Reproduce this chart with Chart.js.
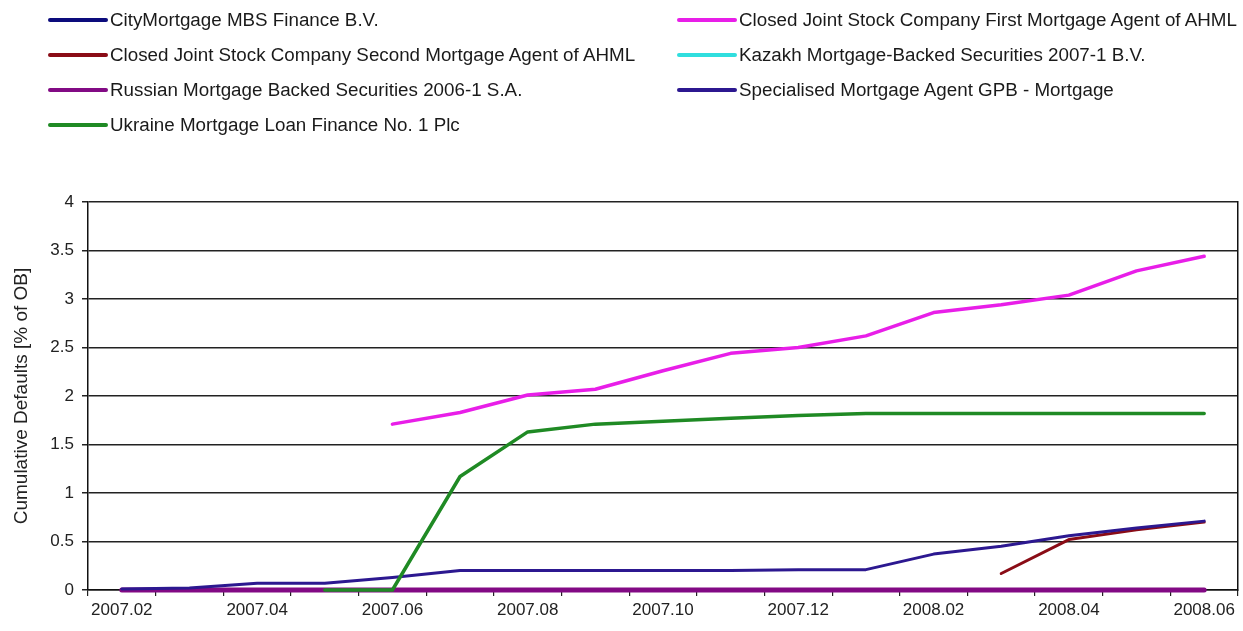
<!DOCTYPE html>
<html><head><meta charset="utf-8">
<script src="https://cdn.jsdelivr.net/npm/chart.js@4.4.0/dist/chart.umd.min.js"></script>
<style>
body{margin:0;background:#fff;width:1243px;height:631px;overflow:hidden;position:relative;font-family:"Liberation Sans",Arial,sans-serif;}
#legend{position:absolute;left:0;top:0;width:1243px;height:150px;z-index:2;}
.item{position:absolute;display:flex;align-items:center;font-size:18.8px;color:#1a1a1a;white-space:nowrap;line-height:20px;}
.sw{display:inline-block;width:60px;height:4px;border-radius:2px;margin-right:2px;}
canvas{position:absolute;left:0;top:0;}
</style></head><body>
<div id="legend"></div>
<canvas id="c" width="1243" height="631"></canvas>
<script>
const months = ['2007.02','2007.03','2007.04','2007.05','2007.06','2007.07','2007.08','2007.09','2007.10','2007.11','2007.12','2008.01','2008.02','2008.03','2008.04','2008.05','2008.06'];
const shownTicks = ['2007.02','2007.04','2007.06','2007.08','2007.10','2007.12','2008.02','2008.04','2008.06'];
const yTicks = [0,0.5,1,1.5,2,2.5,3,3.5,4];

const cityMortgage   = [0,0,0,0,0,0,0,0,0,0,0,0,0,0,0,0,0];
const firstAHML      = [null,null,null,null,1.71,1.83,2.01,2.07,2.26,2.44,2.50,2.62,2.86,2.94,3.04,3.29,3.44];
const secondAHML     = [null,null,null,null,null,null,null,null,null,null,null,null,null,0.17,0.52,0.62,0.70];
const kazakhMBS      = [0,0,0,0,0,0,0,0,0,0,0,0,0,0,0,0,0];
const russianMBS     = [0,0,0,0,0,0,0,0,0,0,0,0,0,0,0,0,0];
const specialisedGPB = [0.01,0.02,0.07,0.07,0.13,0.20,0.20,0.20,0.20,0.20,0.21,0.21,0.37,0.45,0.56,0.64,0.71];
const ukraineMLF     = [null,null,null,0,0,1.17,1.63,1.71,1.74,1.77,1.80,1.82,1.82,1.82,1.82,1.82,1.82];

const seriesNames = ['CityMortgage MBS Finance B.V.','Closed Joint Stock Company First Mortgage Agent of AHML','Closed Joint Stock Company Second Mortgage Agent of AHML','Kazakh Mortgage-Backed Securities 2007-1 B.V.','Russian Mortgage Backed Securities 2006-1 S.A.','Specialised Mortgage Agent GPB - Mortgage','Ukraine Mortgage Loan Finance No. 1 Plc'];
const seriesData = [cityMortgage, firstAHML, secondAHML, kazakhMBS, russianMBS, specialisedGPB, ukraineMLF];
const seriesColors = ['#0c0c7c','#e81ee8','#8a0c16','#30dede','#820a84','#2c1890','#1f8a24'];
const seriesWidths = [3, 3.5, 3, 3, 5, 3, 3.5];

// HTML legend: two columns, row-major
const legend = document.getElementById('legend');
const colX = [48, 677];
const rowY = [20, 55, 90, 125];
seriesNames.forEach((name, i) => {
  const d = document.createElement('div');
  d.className = 'item';
  d.style.left = colX[i % 2] + 'px';
  d.style.top = (rowY[Math.floor(i / 2)] - 10) + 'px';
  const s = document.createElement('span');
  s.className = 'sw';
  s.style.background = seriesColors[i];
  d.appendChild(s);
  d.appendChild(document.createTextNode(name));
  legend.appendChild(d);
});

const tickFont = {family:'"Liberation Sans", Arial, sans-serif', size:17};

new Chart(document.getElementById('c'), {
  type: 'line',
  data: {
    labels: months,
    datasets: seriesNames.map((name, i) => ({
      label: name,
      data: seriesData[i],
      borderColor: seriesColors[i],
      backgroundColor: seriesColors[i],
      borderWidth: seriesWidths[i],
      pointRadius: 0,
      fill: false,
      spanGaps: false,
      clip: false,
      order: seriesNames.length - i
    }))
  },
  options: {
    responsive: false,
    animation: false,
    devicePixelRatio: 1,
    layout: {padding: {top: 202, right: 5, bottom: 0, left: 0}},
    plugins: {legend: {display: false}, tooltip: {enabled: false}},
    elements: {line: {tension: 0, borderCapStyle: 'round', borderJoinStyle: 'round'}},
    scales: {
      x: {
        type: 'category',
        offset: true,
        grid: {offset: true, drawOnChartArea: false, tickLength: 6, color: '#222', lineWidth: 1.2},
        border: {color: '#111', width: 1.5},
        ticks: {
          autoSkip: false, maxRotation: 0, minRotation: 0, padding: 4,
          font: tickFont, color: '#222',
          callback: function(v) { const l = this.getLabelForValue(v); return shownTicks.includes(l) ? l : ''; }
        },
        afterFit: s => { s.height = 41; }
      },
      y: {
        min: 0, max: 4,
        afterBuildTicks: s => { s.ticks = yTicks.map(v => ({value: v})); },
        ticks: {padding: 8, font: tickFont, color: '#222', callback: v => String(v)},
        grid: {color: '#222', lineWidth: 1.5, tickLength: 6},
        border: {color: '#111', width: 1.5},
        title: {display: true, text: 'Cumulative Defaults [% of OB]', font: {family:'"Liberation Sans", Arial, sans-serif', size: 19}, color: '#222', padding: {top: 10, bottom: 0}},
        afterFit: s => { s.width = 88; }
      },
      y2: {
        position: 'right', min: 0, max: 4,
        grid: {drawOnChartArea: false, drawTicks: false},
        ticks: {display: false},
        border: {display: true, color: '#111', width: 1.5},
        afterFit: s => { s.width = 0; }
      }
    }
  }
});
</script>
</body></html>
